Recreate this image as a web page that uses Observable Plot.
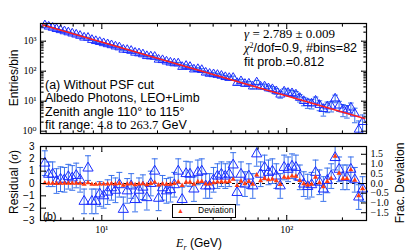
<!DOCTYPE html>
<html><head><meta charset="utf-8">
<script src="https://cdn.jsdelivr.net/npm/d3@7"></script>
<script src="https://cdn.jsdelivr.net/npm/@observablehq/plot@0.6"></script>
<style>
body{margin:0;background:#fff;}
#fig{position:relative;width:407px;height:251px;overflow:hidden;background:#fff;font-family:"Liberation Sans",Arial,sans-serif;color:#000;}
#fig svg{position:absolute;left:0;}
.t{position:absolute;white-space:nowrap;line-height:1;font-size:12px;}
.a{font-size:12.5px;}
.serif{font-family:"Liberation Serif","DejaVu Serif",serif;}
.it{font-style:italic;}
.rot{transform:translate(-50%,-50%) rotate(-90deg);}
</style></head><body><div id="fig"></div>
<script>
// ---- data ----
const energy=[4.92,5.16,5.42,5.69,5.98,6.28,6.59,6.92,7.27,7.63,
8.02,8.42,8.84,9.28,9.74,10.23,10.75,11.28,11.85,12.44,
13.07,13.72,14.41,15.13,15.89,16.68,17.52,18.40,19.32,20.28,
21.30,22.37,23.49,24.66,25.90,27.19,28.56,29.99,31.48,33.06,
34.72,36.46,38.28,40.20,42.21,44.33,46.55,48.87,51.32,53.89,
56.58,59.42,62.40,65.52,68.80,72.24,75.86,79.66,83.65,87.84,
92.23,96.83,101.7,106.8,112.1,117.7,123.6,129.8,136.3,143.2,
150.3,157.8,165.7,174.0,182.7,191.9,201.5,211.6,222.2,233.3,
245.0,257.3];
const counts=[3410,3078,2823,2560,2353,2155,1986,1816,1674,1522,
1329,1312,1112,1017,948,864,799,740,673,627,
527,515,481,417,396,367,321,313,304,244,
236,212,195,184,183,140,152,140,115,119,
110.5,90.2,82.6,79.9,75.9,71.0,64.1,60.0,60.5,40.9,
46.8,38.1,38.8,31.2,42.7,31.0,31.3,27.1,25.4,21.7,
16.7,21.2,19.1,18.6,16.9,13.0,10.2,8.72,8.41,10.5,
7.57,5.53,6.75,7.04,12.4,7.22,5.36,4.96,6.2,3.88,
1.13,2.04];
const residual=[1.65,0.75,0.75,0.2,0.35,0.3,0.55,0.45,0.65,0.3,
-1.45,1.25,-1.45,-1.45,-0.85,-1.0,-0.7,-0.35,-0.55,-0.1,
-2.1,-0.6,-0.2,-1.3,-0.55,-0.3,-1.15,0.0,1.0,-1.2,
-0.35,-0.6,-0.5,-0.1,1.0,-1.3,0.8,0.75,-0.45,0.9,
1.0,-0.2,-0.2,0.3,0.6,0.75,0.6,0.75,1.5,-0.73,
0.75,-0.05,0.6,-0.2,2.4,0.75,1.3,0.9,1.0,0.6,
-0.2,1.3,1.15,1.4,1.3,0.5,-0.05,-0.25,-0.1,0.9,
0.1,-0.45,0.25,0.6,2.1,1.15,0.5,0.5,1.15,0.3,
-1.1,-0.45];
const deviation=[0.029,0.014,0.014,0.004,0.007,0.006,0.012,0.011,0.016,0.008,
-0.039,0.035,-0.043,-0.044,-0.027,-0.033,-0.024,-0.013,-0.021,-0.004,
-0.087,-0.026,-0.009,-0.062,-0.027,-0.016,-0.062,0.0,0.059,-0.074,
-0.023,-0.04,-0.035,-0.007,0.077,-0.104,0.067,0.066,-0.041,0.086,
0.1,-0.021,-0.022,0.034,0.071,0.093,0.078,0.102,0.212,-0.108,
0.116,-0.008,0.101,-0.035,0.441,0.144,0.261,0.189,0.219,0.137,
-0.048,0.324,0.3,0.381,0.37,0.149,-0.016,-0.081,-0.034,0.319,
0.037,-0.174,0.101,0.253,1.4,0.53,0.24,0.251,0.7,0.165,
-0.629,-0.269];
const fitEnergy=[4.8,263.7];
const fitCounts=[3461,2.67];
const yTicksTop=[1,10,100,1000];
const xMajor=[10,100];
const xMinor=[5,6,7,8,9,20,30,40,50,60,70,80,90,200];
const resTicks=[-3,-2,-1,0,1,2,3];
const devTicks=[-1.5,-1.0,-0.5,0.0,0.5,1.0,1.5];

// ---- styling ----
const BLUE="#1a2cff", ERR="#3a72ec", RED="#ff1f1f", RED2="#ff3a12";
const SANS='"Liberation Sans", Arial, sans-serif';
const SERIF='"Liberation Serif", "DejaVu Serif", serif';
const X_DOMAIN=[4.66,270];
const K=3/1.9;
const SUP={"0":"\u2070","1":"\u00b9","2":"\u00b2","3":"\u00b3"};
const pow10=d=>"10"+SUP[String(Math.round(Math.log10(d)))];
const minus=s=>String(s).replace("-","\u2212");

const rows=energy.map((e,i)=>{
  const n=counts[i], s=Math.sqrt(n);
  return {e, n, lo: Math.max(n-s,0.01), hi:n+s, r:residual[i], dev:deviation[i]};
});
const fit=fitEnergy.map((e,i)=>({e,n:fitCounts[i]}));
const yMinorTop=[];
for (const d of [1,10,100,1000]) for (let m=2;m<=9;m++) if (d*m<3890) yMinorTop.push(d*m);

const cap={draw(ctx,size){const w=Math.sqrt(size/Math.PI);ctx.moveTo(-w,0);ctx.lineTo(w,0);}};
const tv=(vals,ch,frameAnchor,rotate,length)=>Plot.vector(vals,{[ch]:d=>d,frameAnchor,rotate,length,r:0,anchor:"start",stroke:"black",strokeWidth:1});

const topPlot=Plot.plot({
  width:407,height:138,marginTop:23,marginBottom:5,marginLeft:40,marginRight:41,
  style:{background:"transparent",fontFamily:SERIF,fontSize:"10px",top:"0px"},
  x:{type:"log",domain:X_DOMAIN,axis:null},
  y:{type:"log",domain:[0.838,3890]},
  marks:[
    Plot.ruleX(rows,{x:"e",y1:"lo",y2:"hi",stroke:ERR,strokeWidth:1,clip:true}),
    Plot.dot(rows,{x:"e",y:"lo",symbol:cap,r:2.8,stroke:ERR,strokeWidth:1,clip:true}),
    Plot.dot(rows,{x:"e",y:"hi",symbol:cap,r:2.8,stroke:ERR,strokeWidth:1,clip:true}),
    Plot.dot(rows,{x:"e",y:"n",symbol:"triangle",r:3.3,stroke:BLUE,fill:"none",strokeWidth:1}),
    Plot.line(fit,{x:"e",y:"n",stroke:RED,strokeWidth:1.6}),
    tv(xMajor,"x","bottom",0,5), tv(xMinor,"x","bottom",0,2.5),
    tv(xMajor,"x","top",180,5), tv(xMinor,"x","top",180,2.5),
    tv(yTicksTop,"y","left",90,5), tv(yMinorTop,"y","left",90,2.5),
    tv(yTicksTop,"y","right",-90,5), tv(yMinorTop,"y","right",-90,2.5),
    Plot.axisY({ticks:yTicksTop,tickSize:0,tickPadding:4,tickFormat:pow10,label:null,fontFamily:SERIF,fontSize:10}),
    Plot.frame({stroke:"black",strokeWidth:1.2})
  ]
});

const botPlot=Plot.plot({
  width:407,height:113,marginTop:8,marginBottom:31,marginLeft:40,marginRight:41,
  style:{background:"transparent",fontFamily:SANS,fontSize:"10px",top:"138px"},
  x:{type:"log",domain:X_DOMAIN},
  y:{domain:[-3,3]},
  marks:[
    Plot.ruleY([0],{stroke:"black",strokeDasharray:"3,3",strokeWidth:1}),
    Plot.ruleX(rows,{x:"e",y1:d=>d.r-1,y2:d=>d.r+1,stroke:ERR,strokeWidth:1,clip:true}),
    Plot.dot(rows,{x:"e",y:d=>d.r-1,symbol:cap,r:3,stroke:ERR,strokeWidth:1,clip:true}),
    Plot.dot(rows,{x:"e",y:d=>d.r+1,symbol:cap,r:3,stroke:ERR,strokeWidth:1,clip:true}),
    Plot.dot(rows,{x:"e",y:"r",symbol:"triangle",r:3.8,stroke:BLUE,fill:"none",strokeWidth:1}),
    Plot.dot(rows,{x:"e",y:d=>d.dev*K,symbol:"triangle",r:1.9,fill:RED2,stroke:"none"}),
    tv(xMajor,"x","bottom",0,5), tv(xMinor,"x","bottom",0,2.5),
    tv(xMajor,"x","top",180,5), tv(xMinor,"x","top",180,2.5),
    tv(resTicks,"y","left",90,5),
    tv(devTicks.map(v=>v*K),"y","right",-90,5),
    Plot.axisX({ticks:xMajor,tickSize:0,tickPadding:5,tickFormat:pow10,label:null,fontFamily:SERIF,fontSize:10}),
    Plot.axisY({ticks:resTicks,tickSize:0,tickPadding:6,tickFormat:d=>minus(d),label:null,fontFamily:SANS,fontSize:10}),
    Plot.axisY({anchor:"right",ticks:devTicks.map(v=>v*K),tickSize:0,tickPadding:4,tickFormat:d=>minus((d/K).toFixed(1)),label:null,fontFamily:SERIF,fontSize:10}),
    Plot.frame({stroke:"black",strokeWidth:1.2})
  ]
});

const fig=document.getElementById("fig");
fig.append(topPlot,botPlot);
const html=`
<div class="t rot" style="left:14px;top:78px;">Entries/bin</div>
<div class="t rot" style="left:14px;top:182px;">Residual (<span class="serif it">σ</span>)</div>
<div class="t rot" style="left:400px;top:183px;">Frac. Deviation</div>
<div class="t" style="left:199px;top:237px;transform:translateX(-50%);"><span class="serif it">E</span><span class="serif it" style="font-size:8px;position:relative;top:3px;">r</span> (GeV)</div>
<div class="t a" style="left:45px;top:78.5px;">(a) Without PSF cut</div>
<div class="t a" style="left:45px;top:92px;">Albedo Photons, LEO+Limb</div>
<div class="t a" style="left:45px;top:105.5px;">Zenith angle 110° to 115°</div>
<div class="t a" style="left:45px;top:119px;">fit range: <span class="serif">4.8</span> to <span class="serif">263.7</span> GeV</div>
<div class="t serif" style="left:244px;top:27px;font-size:13px;"><span class="it">γ</span> = 2.789 ± 0.009</div>
<div class="t a" style="left:244px;top:42px;"><span class="serif it">χ</span><span class="serif" style="font-size:8px;position:relative;top:-4px;">2</span>/dof=0.9, #bins=82</div>
<div class="t a" style="left:244px;top:56px;">fit prob.=0.812</div>
<div class="t" style="left:43px;top:211px;font-size:11px;">(b)</div>
<div style="position:absolute;left:171.5px;top:204px;width:62px;height:12px;border:1px solid #000;background:#fff;"></div>
<div class="t" style="left:177px;top:206.5px;font-size:7px;color:${RED2};">▲</div>
<div class="t" style="left:198px;top:205.5px;font-size:8.5px;">Deviation</div>
`;
fig.insertAdjacentHTML("beforeend",html);
</script></body></html>
